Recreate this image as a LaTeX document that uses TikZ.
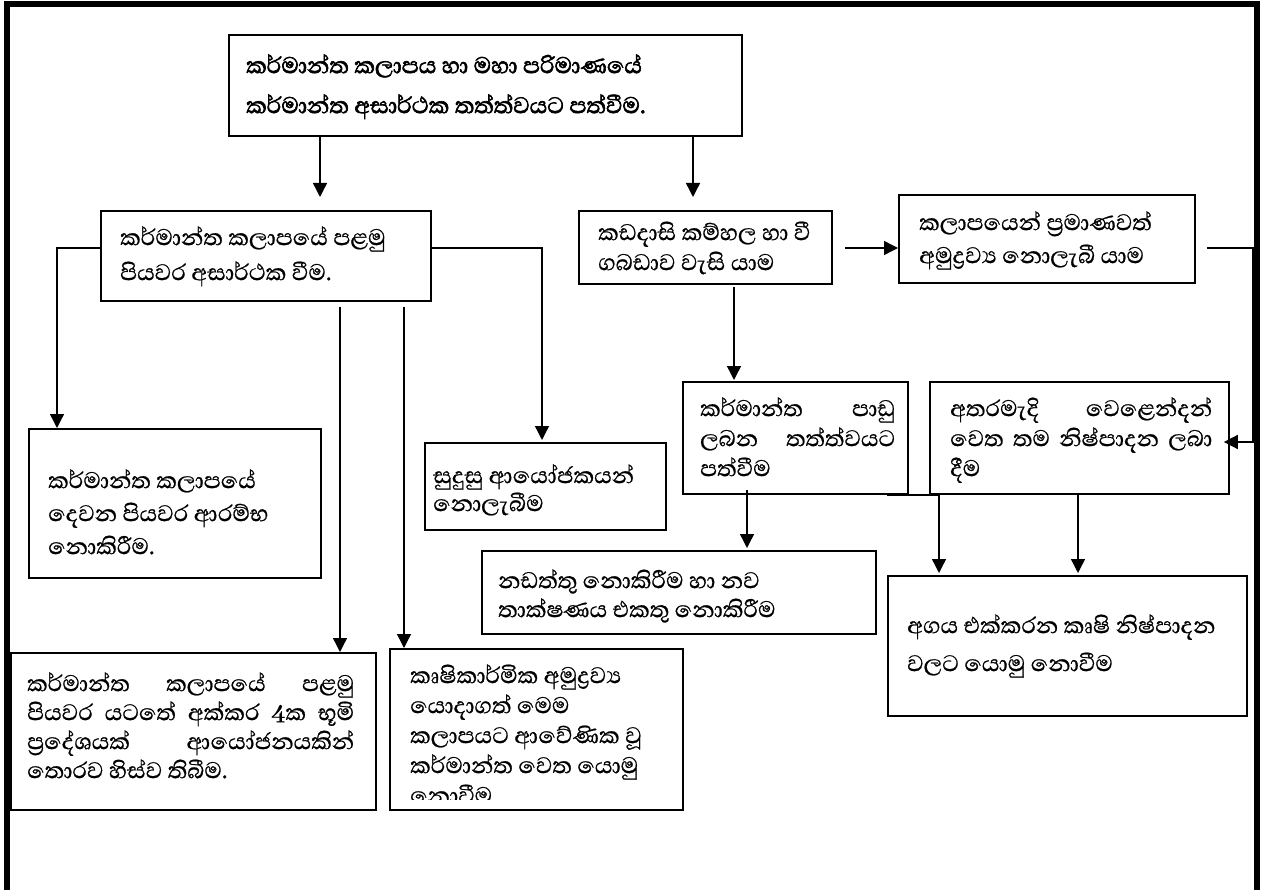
\documentclass[tikz,border=0pt]{standalone}
\usepackage{fontspec}
\newfontfamily\sinfont[Script=Sinhala,FakeBold=0.7]{Abhaya Libre}
\newfontfamily\sinbold[Script=Sinhala,FakeBold=2.2]{Abhaya Libre}
\usetikzlibrary{arrows.meta}
\newcommand{\zw}{^^^^200d}
\newcommand{\jl}[2]{\hbox to #1pt{#2}}
\newcommand{\fl}{\rule{0pt}{26pt}}
\begin{document}
\begin{tikzpicture}[x=1pt,y=-1pt,
  box/.style={draw, line width=1.8pt, anchor=north west, inner sep=0pt, rectangle},
  txt/.style={anchor=north west, inner sep=0pt, align=left, font=\sinfont\fontsize{29}{#1}\selectfont},
  txt/.default=30,
  arr/.style={line width=1.4pt, -{Triangle[length=14pt,width=14pt]}}]
\useasboundingbox (0,0) rectangle (1263,890);
% frame
\draw[line width=5.5pt] (7,900) -- (7,4) -- (1257,4) -- (1257,900);
% boxes
\node[box, minimum width=513, minimum height=101] (T) at (228,34) {};
\node[box, minimum width=330, minimum height=90] (B1) at (100,210) {};
\node[box, minimum width=253, minimum height=73] (B2) at (578,210) {};
\node[box, minimum width=296, minimum height=88] (B3) at (898,194) {};
\node[box, minimum width=225, minimum height=112] (B4) at (682,381) {};
\node[box, minimum width=299, minimum height=112] (B5) at (929,381) {};
\node[box, minimum width=292, minimum height=149] (C1) at (28,428) {};
\node[box, minimum width=241, minimum height=87] (S) at (424,442) {};
\node[box, minimum width=394, minimum height=83] (N) at (481,550) {};
\node[box, minimum width=359, minimum height=140] (E) at (887,575) {};
\node[box, minimum width=365, minimum height=157] (D1) at (10,652) {};
\node[box, minimum width=293, minimum height=161] (D2) at (389,648) {};
% texts
\node[txt, font=\sinbold\fontsize{29}{40}\selectfont] (Tt) at ([xshift=18,yshift=-13]T.north west)
  {\fl කර්මාන්ත කලාපය හා මහා පරිමාණයේ\\කර්මාන්ත අසාර්ථක තත්ත්වයට පත්වීම.};
\node[txt=35] (B1t) at ([xshift=20,yshift=-9]B1.north west)
  {\fl කර්මාන්ත කලාපයේ පළමු\\පියවර අසාර්ථක වීම.};
\node[txt] (B2t) at ([xshift=20,yshift=-4]B2.north west)
  {\fl කඩදාසි කම්හල හා වී\\ගබඩාව වැසි යාම};
\node[txt=33] (B3t) at ([xshift=21,yshift=-10]B3.north west)
  {\fl කලාපයෙන් ප්\zw රමාණවත්\\අමුද්\zw රව්\zw ය නොලැබී යාම};
\node[txt] (B4t) at ([xshift=18,yshift=-9]B4.north west)
  {\jl{195}{\fl කර්මාන්ත\hfill පාඩු}\\\jl{195}{ලබන\hfill තත්ත්වයට}\\පත්වීම};
\node[txt] (B5t) at ([xshift=21,yshift=-9]B5.north west)
  {\jl{262}{\fl අතරමැදි\hfill වෙළෙන්දන්}\\\jl{262}{වෙත\hfill තම\hfill නිෂ්පාදන\hfill ලබා}\\දීම};
\node[txt=33] (C1t) at ([xshift=20,yshift=-34]C1.north west)
  {\fl කර්මාන්ත කලාපයේ\\දෙවන පියවර ආරම්භ\\නොකිරීම.};
\node[txt=28] (St) at ([xshift=9,yshift=-15]S.north west)
  {\fl සුදුසු ආයෝජකයන්\\නොලැබීම};
\node[txt=29] (Nt) at ([xshift=17,yshift=-12]N.north west)
  {\fl නඩත්තු නොකිරීම හා නව\\තාක්ෂණය එකතු නොකිරීම};
\node[txt=38] (Et) at ([xshift=20,yshift=-32]E.north west)
  {\fl අගය එක්කරන කෘෂි නිෂ්පාදන\\වලට යොමු නොවීම};
\node[txt=29] (D1t) at ([xshift=17,yshift=-13]D1.north west)
  {\jl{327}{\fl කර්මාන්ත\hfill කලාපයේ\hfill පළමු}\\\jl{327}{පියවර\hfill යටතේ\hfill අක්කර\hfill 4ක\hfill භූමි}\\\jl{327}{ප්\zw රදේශයක්\hfill ආයෝජනයකින්}\\තොරව හිස්ව තිබීම.};
\begin{scope}
\clip ([xshift=2,yshift=-2]D2.north west) rectangle ([xshift=-2,yshift=11]D2.south east);
\node[txt] (D2t) at ([xshift=21,yshift=-9]D2.north west)
  {\fl කෘෂිකාර්මික අමුද්\zw රව්\zw ය\\යොදාගත් මෙම\\කලාපයට ආවේණික වූ\\කර්මාන්ත වෙත යොමු\\නොවීම};
\end{scope}
% connectors
\draw[arr] ([xshift=92]T.south west) -- ([xshift=220,yshift=13]B1.north west);
\draw[arr] ([xshift=465]T.south west) -- ([xshift=115,yshift=13]B2.north west);
\draw[arr] ([yshift=-38]B1.north west) -| ([xshift=29]C1.north west);
\draw[arr] ([yshift=-38]B1.north east) -| ([xshift=118,yshift=2]S.north west);
\draw[arr] ([xshift=240,yshift=-5]B1.south west) -- ([xshift=330]D1.north west);
\draw[arr] ([xshift=304,yshift=-5]B1.south west) -- ([xshift=15]D2.north west);
\draw[arr] ([xshift=156,yshift=-2]B2.south west) -- ([xshift=52,yshift=1]B4.north west);
\draw[arr] ([xshift=12,yshift=-38]B2.north east) -- ([yshift=-54]B3.north west);
\draw[arr] ([xshift=11,yshift=-54]B3.north east) -- ++(46,0) |- ([xshift=-6,yshift=-61]B5.north east);
\draw[arr] ([xshift=65,yshift=5]B4.south west) -- ([xshift=266,yshift=2]N.north west);
\draw[arr] ([xshift=-22]B4.south east) -| ([xshift=52,yshift=2]E.north west);
\draw[arr] ([xshift=149]B5.south west) -- ([xshift=191,yshift=2]E.north west);
\end{tikzpicture}
\end{document}
